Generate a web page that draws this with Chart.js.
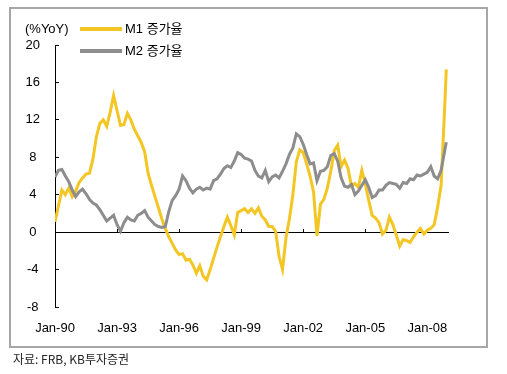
<!DOCTYPE html>
<html>
<head>
<meta charset="utf-8">
<script src="https://cdn.jsdelivr.net/npm/chart.js@4/dist/chart.umd.min.js"></script>
<style>
  html, body { margin: 0; padding: 0; background: #fff; }
  body { width: 507px; height: 374px; position: relative; overflow: hidden; }
  #frame { position: absolute; left: 9px; top: 7px; width: 479px; height: 341px; box-sizing: border-box; border: 2px solid #a6a6a6; }
  #chart { position: absolute; left: 0; top: 0; }
  #source { position: absolute; left: 13px; top: 350px; font: 12px "Noto Sans CJK KR", sans-serif; color: #222; }
</style>
</head>
<body>
<div id="frame"></div>
<canvas id="chart" width="507" height="374"></canvas>
<div id="source">자료: FRB, KB투자증권</div>
<script>
// months since Jan-1990
const months = [0,2,4,6,8,10,12,14,16,18,20,22,24,26,28,30,32,34,36,38,40,42,44,46,48,50,52,54,56,58,
  60,62,64,66,68,70,72,74,76,78,80,82,84,86,88,90,92,94,96,98,100,102,104,106,108,110,112,114,116,118,
  120,122,124,126,128,130,132,134,136,138,140,142,144,146,148,150,152,154,156,158,160,162,164,166,168,170,172,174,176,178,
  180,182,184,186,188,190,192,194,196,198,200,202,204,206,208,210,212,214,216,218,220,222,224,226,227];

const m1Growth = [1.1,2.8,4.5,4.0,4.7,3.8,4.4,5.3,5.8,6.2,6.3,7.8,10.2,11.6,12.0,11.3,12.8,14.6,13.0,11.4,
  11.5,12.7,12.0,11.0,10.3,9.6,8.6,6.3,5.0,3.8,2.6,1.4,0.4,-0.5,-1.2,-1.9,-2.4,-2.3,-3.0,-2.9,
  -3.5,-4.4,-3.6,-4.7,-5.1,-4.0,-2.8,-1.6,-0.5,0.6,1.6,0.7,-0.3,2.1,2.3,2.5,2.1,2.5,2.0,2.6,
  1.7,1.3,0.6,0.6,0.1,-2.6,-4.0,-0.6,1.4,4.0,7.5,8.8,8.5,7.3,6.0,4.3,-0.4,3.0,3.5,4.7,
  6.5,8.7,9.3,7.0,7.7,6.8,4.9,5.2,4.8,6.6,5.2,3.4,1.8,1.5,1.0,-0.2,0.2,1.6,0.8,-0.3,
  -1.5,-0.8,-0.9,-1.1,-0.5,0.0,0.4,-0.2,0.2,0.4,0.8,2.7,5.0,13.0,17.4];

const m2Growth = [5.9,6.6,6.7,6.0,5.4,4.5,3.8,4.3,4.6,4.1,3.5,3.1,2.9,2.4,1.8,1.2,1.5,1.8,0.8,0.1,
  1.0,1.6,1.3,1.2,1.8,2.0,2.3,1.6,1.2,0.8,0.6,0.5,0.6,2.2,3.4,3.9,4.6,6.0,5.5,4.7,
  4.2,4.6,4.8,4.5,4.7,4.6,5.5,5.7,6.2,6.8,7.1,6.9,7.6,8.5,8.3,7.9,7.8,7.6,6.6,6.0,
  5.8,6.6,5.4,5.9,6.1,5.8,6.5,7.3,8.3,9.0,10.5,10.2,9.4,8.3,7.3,7.4,5.5,6.5,6.6,7.0,
  8.2,8.4,7.6,5.8,4.9,4.8,5.1,4.0,4.4,5.0,5.6,4.8,3.7,3.9,4.5,4.5,5.0,5.3,5.2,5.1,
  4.7,5.3,5.2,5.7,5.6,6.1,6.0,6.2,6.4,7.0,6.0,5.7,6.6,8.6,9.6];

const tickMonths = [0, 36, 72, 108, 144, 180, 216];
const tickLabels = ['Jan-90', 'Jan-93', 'Jan-96', 'Jan-99', 'Jan-02', 'Jan-05', 'Jan-08'];
const yTicks = [20, 16, 12, 8, 4, 0, -4, -8];

const seriesNames = ['M1 증가율', 'M2 증가율'];
const yellow = '#f3c623';
const grey = '#8d8d8d';
const FONT = '"Liberation Sans", Arial, "Noto Sans CJK KR", sans-serif';

function toPoints(vals) {
  return months.map((m, i) => ({ x: m, y: vals[i] }));
}

// unit label + vertical legend in the top-left corner
const cornerLegend = {
  id: 'cornerLegend',
  afterDraw(chart) {
    const ctx = chart.ctx;
    const left = chart.chartArea.left;
    ctx.save();
    ctx.font = '13px ' + FONT;
    ctx.fillStyle = '#000';
    ctx.textBaseline = 'middle';
    ctx.textAlign = 'left';
    ctx.fillText('(%YoY)', left - 30, 29);
    chart.data.datasets.forEach((ds, i) => {
      const y = 29 + i * 22;
      ctx.strokeStyle = ds.borderColor;
      ctx.lineWidth = 4;
      ctx.beginPath();
      ctx.moveTo(left + 25, y);
      ctx.lineTo(left + 67, y);
      ctx.stroke();
      ctx.fillStyle = '#000';
      ctx.fillText(ds.label, left + 70, y);
    });
    ctx.restore();
  }
};

new Chart(document.getElementById('chart'), {
  type: 'line',
  data: {
    datasets: [
      { label: seriesNames[0], data: toPoints(m1Growth), borderColor: yellow, borderWidth: 3, order: 2 },
      { label: seriesNames[1], data: toPoints(m2Growth), borderColor: grey, borderWidth: 3, order: 1 }
    ]
  },
  options: {
    responsive: false,
    animation: false,
    devicePixelRatio: 1,
    parsing: false,
    layout: { padding: { left: 10, top: 45, right: 59, bottom: 37 } },
    elements: { point: { radius: 0 }, line: { tension: 0 } },
    plugins: { legend: { display: false }, tooltip: { enabled: false } },
    scales: {
      x: {
        type: 'linear',
        min: 0,
        max: 228,
        afterBuildTicks: s => { s.ticks = tickMonths.map(v => ({ value: v })); },
        afterFit: s => { s.height = 30; },
        grid: { display: false, drawTicks: false },
        border: { display: false },
        ticks: {
          padding: 14,
          color: '#000',
          font: { size: 13, family: FONT },
          maxRotation: 0,
          autoSkip: false,
          callback: v => tickLabels[tickMonths.indexOf(v)]
        }
      },
      x0: {
        axis: 'x',
        type: 'linear',
        position: { y: 0 },
        min: 0,
        max: 228,
        afterBuildTicks: s => { s.ticks = tickMonths.map(v => ({ value: v })); },
        grid: { drawOnChartArea: false, tickLength: -4, color: '#000' },
        border: { color: '#000', width: 1 },
        ticks: { display: false }
      },
      y: {
        min: -8,
        max: 20,
        afterBuildTicks: s => { s.ticks = yTicks.map(v => ({ value: v })); },
        afterFit: s => { s.width = 45; },
        grid: { drawOnChartArea: false, tickLength: -4, color: '#000' },
        border: { color: '#000', width: 1 },
        ticks: {
          padding: 19,
          crossAlign: 'center',
          color: '#000',
          font: { size: 13, family: FONT }
        }
      }
    }
  },
  plugins: [cornerLegend]
});
</script>
</body>
</html>
